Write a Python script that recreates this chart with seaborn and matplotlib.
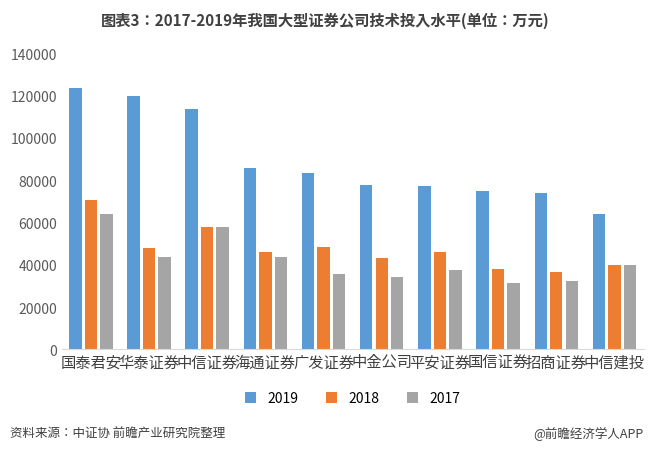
import matplotlib
matplotlib.use("Agg")
import matplotlib.pyplot as plt
from matplotlib import font_manager as fm
import seaborn as sns
import pandas as pd

companies = ["国泰君安","华泰证券","中信证券","海通证券","广发证券","中金公司","平安证券","国信证券","招商证券","中信建投"]
v2019 = [123500,120000,113500,85500,83500,77500,77000,75000,74000,64000]
v2018 = [70500,48000,58000,46000,48500,43000,46000,38000,36500,40000]
v2017 = [64000,43500,58000,43500,35500,34000,37500,31500,32500,40000]
years = ["2019","2018","2017"]
colors = ["#5B9BD5","#ED7D31","#A5A5A5"]

cjk = [f for f in fm.findSystemFonts() if "CJK" in f]
names = []
for f in cjk:
    try:
        fm.fontManager.addfont(f)
        names.append(fm.FontProperties(fname=f).get_name())
    except Exception:
        pass
pref = [n for n in names if n.endswith("SC")] + names
plt.rcParams["font.family"] = "sans-serif"
plt.rcParams["font.sans-serif"] = pref + ["Noto Sans CJK SC", "DejaVu Sans"]

df = pd.DataFrame({"公司": companies*3, "年份": [y for y in years for _ in companies],
                   "值": v2019+v2018+v2017})

fig = plt.figure(figsize=(6.5,4.52), dpi=100)
ax = fig.add_axes([0.095,0.225,0.895,0.655])
sns.barplot(data=df, x="公司", y="值", hue="年份", palette=colors, ax=ax, width=0.8, gap=0.2, saturation=1)
ax.set_ylim(0,140000)
ax.set_yticks(range(0,140001,20000))
ax.tick_params(axis="y", length=0, labelsize=10, colors="#595959")
ax.tick_params(axis="x", length=0, labelsize=11, colors="#404040", pad=3)
ax.set_xlabel(""); ax.set_ylabel("")
for s in ["top","right","left"]:
    ax.spines[s].set_visible(False)
ax.spines["bottom"].set_color("#D9D9D9")
ax.set_xlim(-0.5, 9.5)
ax.legend(loc="upper center", bbox_to_anchor=(0.5,-0.1), ncol=3, frameon=False, fontsize=10,
          handlelength=0.8, handleheight=0.8, columnspacing=2)
fig.text(0.5,0.955,"图表3：2017-2019年我国大型证券公司技术投入水平(单位：万元)", ha="center", va="center",
         fontsize=11, fontweight="bold", color="#404040")
fig.text(0.015,0.04,"资料来源：中证协 前瞻产业研究院整理", fontsize=9, color="#404040", va="center")
fig.text(0.99,0.04,"@前瞻经济学人APP", fontsize=9, color="#404040", va="center", ha="right")
fig.savefig("out.png", dpi=100)
